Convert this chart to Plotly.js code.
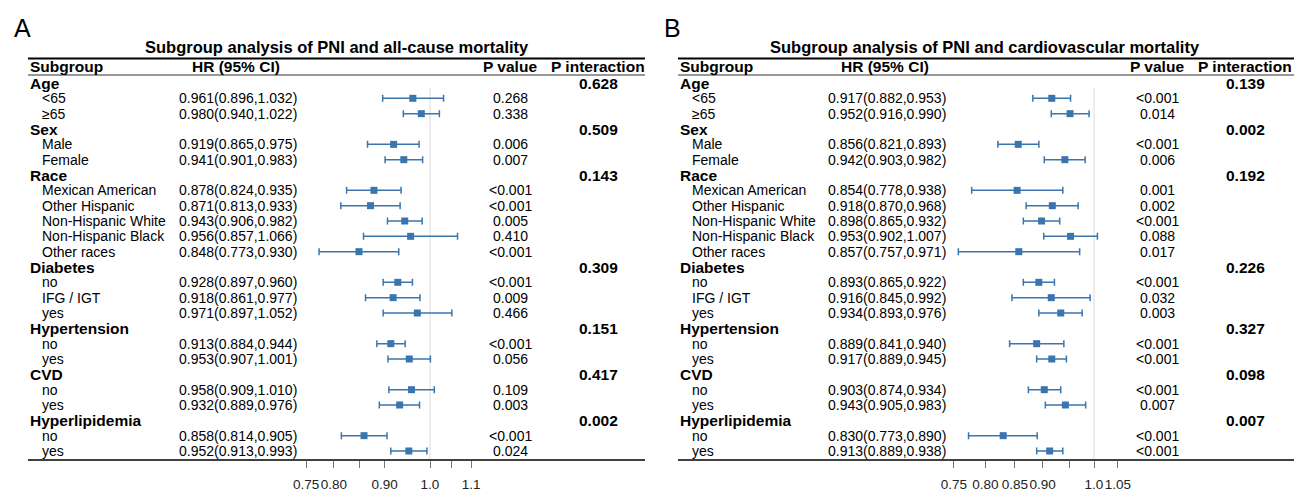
<!DOCTYPE html>
<html>
<head>
<meta charset="utf-8">
<script src="https://cdn.plot.ly/plotly-3.0.1.min.js"></script>
<style>html,body{margin:0;padding:0;background:#fff;}#chart{width:1294px;height:491px;}</style>
</head>
<body>
<div id="chart"></div>
<script>
// ---------- data ----------
const rowLabels = ['Age','<65','≥65','Sex','Male','Female','Race','Mexican American','Other Hispanic','Non-Hispanic White','Non-Hispanic Black','Other races','Diabetes','no','IFG / IGT','yes','Hypertension','no','yes','CVD','no','yes','Hyperlipidemia','no','yes'];
const isHeader  = [1,0,0,1,0,0,1,0,0,0,0,0,1,0,0,0,1,0,0,1,0,0,1,0,0];

// Panel A: all-cause mortality
const hrA = [null,0.961,0.980,null,0.919,0.941,null,0.878,0.871,0.943,0.956,0.848,null,0.928,0.918,0.971,null,0.913,0.953,null,0.958,0.932,null,0.858,0.952];
const loA = [null,0.896,0.940,null,0.865,0.901,null,0.824,0.813,0.906,0.857,0.773,null,0.897,0.861,0.897,null,0.884,0.907,null,0.909,0.889,null,0.814,0.913];
const hiA = [null,1.032,1.022,null,0.975,0.983,null,0.935,0.933,0.982,1.066,0.930,null,0.960,0.977,1.052,null,0.944,1.001,null,1.010,0.976,null,0.905,0.993];
const pA  = ['','0.268','0.338','','0.006','0.007','','<0.001','<0.001','0.005','0.410','<0.001','','<0.001','0.009','0.466','','<0.001','0.056','','0.109','0.003','','<0.001','0.024'];
const pintA = ['0.628','','','0.509','','','0.143','','','','','','0.309','','','','0.151','','','0.417','','','0.002','',''];

// Panel B: cardiovascular mortality
const hrB = [null,0.917,0.952,null,0.856,0.942,null,0.854,0.918,0.898,0.953,0.857,null,0.893,0.916,0.934,null,0.889,0.917,null,0.903,0.943,null,0.830,0.913];
const loB = [null,0.882,0.916,null,0.821,0.903,null,0.778,0.870,0.865,0.902,0.757,null,0.865,0.845,0.893,null,0.841,0.889,null,0.874,0.905,null,0.773,0.889];
const hiB = [null,0.953,0.990,null,0.893,0.982,null,0.938,0.968,0.932,1.007,0.971,null,0.922,0.992,0.976,null,0.940,0.945,null,0.934,0.983,null,0.890,0.938];
const pB  = ['','<0.001','0.014','','<0.001','0.006','','0.001','0.002','<0.001','0.088','0.017','','<0.001','0.032','0.003','','<0.001','<0.001','','<0.001','0.007','','<0.001','<0.001'];
const pintB = ['0.139','','','0.002','','','0.192','','','','','','0.226','','','','0.327','','','0.098','','','0.007','',''];

const tickValsA = [0.75,0.80,0.85,0.90,1.0,1.05,1.1];
const tickTextA = ['0.75','0.80','','0.90','1.0','','1.1'];
const tickValsB = [0.75,0.80,0.85,0.90,0.95,1.0,1.05];
const tickTextB = ['0.75','0.80','0.85','0.90','','1.0','1.05'];

const titleA = 'Subgroup analysis of PNI and all-cause mortality';
const titleB = 'Subgroup analysis of PNI and cardiovascular mortality';

// ---------- layout helpers ----------
const W = 1294, H = 491;
const px = v => v / W;
const py = v => (H - v) / H;
const FONT = 'Liberation Sans, Arial, sans-serif';
const BLUE = '#3a75ae';
const rows = rowLabels.map((_, i) => i);

function fmtHR(h, l, u) { return h == null ? '' : h.toFixed(3) + '(' + l.toFixed(3) + ',' + u.toFixed(3) + ')'; }

function forestTrace(hr, lo, hi, xa) {
  const idx = rows.filter(i => hr[i] != null);
  return {
    type: 'scatter', mode: 'markers', xaxis: xa, yaxis: 'y',
    x: idx.map(i => hr[i]), y: idx,
    marker: { symbol: 'square', size: 7, color: BLUE },
    error_x: { type: 'data', symmetric: false,
      array: idx.map(i => hi[i] - hr[i]), arrayminus: idx.map(i => hr[i] - lo[i]),
      color: BLUE, thickness: 1.5, width: 3.5 },
    hoverinfo: 'skip', showlegend: false
  };
}

const annotations = [];
const shapes = [];

function panel(cfg) {
  const { letter, title, x0, x1, hrX, pX, pintX, titleX, hr, lo, hi, p, pint, xa } = cfg;
  annotations.push({ xref: 'paper', yref: 'paper', x: px(x0 - 16), y: py(28), text: letter, showarrow: false,
    xanchor: 'left', yanchor: 'middle', font: { family: FONT, size: 25, color: '#000' } });
  annotations.push({ xref: 'paper', yref: 'paper', x: px(titleX), y: py(47), text: '<b>' + title + '</b>', showarrow: false,
    xanchor: 'center', yanchor: 'middle', font: { family: FONT, size: 16.5, color: '#000' } });
  const hdr = [['Subgroup', x0, 'left'], ['HR (95% CI)', hrX + 59, 'center'], ['P value', pX, 'center'], ['P interaction', pintX, 'center']];
  hdr.forEach(h => annotations.push({ xref: 'paper', yref: 'paper', x: px(h[1]), y: py(67), text: '<b>' + h[0] + '</b>',
    showarrow: false, xanchor: h[2], yanchor: 'middle', font: { family: FONT, size: 15.5, color: '#000' } }));
  rows.forEach(i => {
    annotations.push({ xref: 'paper', yref: 'y', x: px(isHeader[i] ? x0 : x0 + 12), y: i,
      text: isHeader[i] ? '<b>' + rowLabels[i] + '</b>' : rowLabels[i], showarrow: false, xanchor: 'left', yanchor: 'middle',
      font: { family: FONT, size: isHeader[i] ? 15.5 : 14, color: '#000' } });
    if (hr[i] != null) annotations.push({ xref: 'paper', yref: 'y', x: px(hrX), y: i, text: fmtHR(hr[i], lo[i], hi[i]),
      showarrow: false, xanchor: 'left', yanchor: 'middle', font: { family: FONT, size: 14, color: '#000' } });
    if (p[i]) annotations.push({ xref: 'paper', yref: 'y', x: px(pX), y: i, text: p[i],
      showarrow: false, xanchor: 'center', yanchor: 'middle', font: { family: FONT, size: 14, color: '#000' } });
    if (pint[i]) annotations.push({ xref: 'paper', yref: 'y', x: px(pintX), y: i, text: '<b>' + pint[i] + '</b>',
      showarrow: false, xanchor: 'center', yanchor: 'middle', font: { family: FONT, size: 15.5, color: '#000' } });
  });
  shapes.push({ type: 'line', xref: 'paper', yref: 'paper', x0: px(x0), x1: px(x1), y0: py(58.5), y1: py(58.5), line: { color: '#000', width: 2 } });
  shapes.push({ type: 'line', xref: 'paper', yref: 'paper', x0: px(x0), x1: px(x1), y0: py(75), y1: py(75), line: { color: '#333', width: 1 } });
  shapes.push({ type: 'line', xref: 'paper', yref: 'paper', x0: px(x0), x1: px(x1), y0: py(460), y1: py(460), line: { color: '#000', width: 1.5 } });
  shapes.push({ type: 'line', xref: xa, yref: 'y', x0: 1, x1: 1, y0: 0.3, y1: 24.587, line: { color: '#dcdcdc', width: 1 }, layer: 'below' });
}

panel({ letter: 'A', title: titleA, x0: 28, x1: 645, hrX: 177, pX: 510, pintX: 598, titleX: 337,
  hr: hrA, lo: loA, hi: hiA, p: pA, pint: pintA, xa: 'x' });
panel({ letter: 'B', title: titleB, x0: 678, x1: 1294, hrX: 826, pX: 1157, pintX: 1245, titleX: 985,
  hr: hrB, lo: loB, hi: hiB, p: pB, pint: pintB, xa: 'x2' });

function xaxisCfg(d0, d1, r0, r1, tv, tt) {
  return { type: 'log', domain: [px(d0), px(d1)], range: [r0, r1], anchor: 'y',
    tickmode: 'array', tickvals: tv, ticktext: tt, ticks: 'outside', ticklen: 7, tickwidth: 1, tickcolor: '#777',
    tickangle: 0, ticklabelstandoff: 5,
    showline: false, showgrid: false, zeroline: false, fixedrange: true,
    tickfont: { family: FONT, size: 13.5, color: '#222' } };
}

const layout = {
  width: W, height: H, margin: { l: 0, r: 0, t: 0, b: 0 },
  paper_bgcolor: '#fff', plot_bgcolor: 'rgba(0,0,0,0)', showlegend: false,
  xaxis: xaxisCfg(300, 480, (300 - 430) / 992, (480 - 430) / 992, tickValsA, tickTextA),
  xaxis2: xaxisCfg(945, 1125, (945 - 1094) / 1122, (1125 - 1094) / 1122, tickValsB, tickTextB),
  yaxis: { domain: [py(460), py(76)], range: [24.587, -0.4565], visible: false, fixedrange: true },
  annotations, shapes
};

Plotly.newPlot('chart', [forestTrace(hrA, loA, hiA, 'x'), forestTrace(hrB, loB, hiB, 'x2')], layout,
  { displayModeBar: false, staticPlot: true });
</script>
</body>
</html>
